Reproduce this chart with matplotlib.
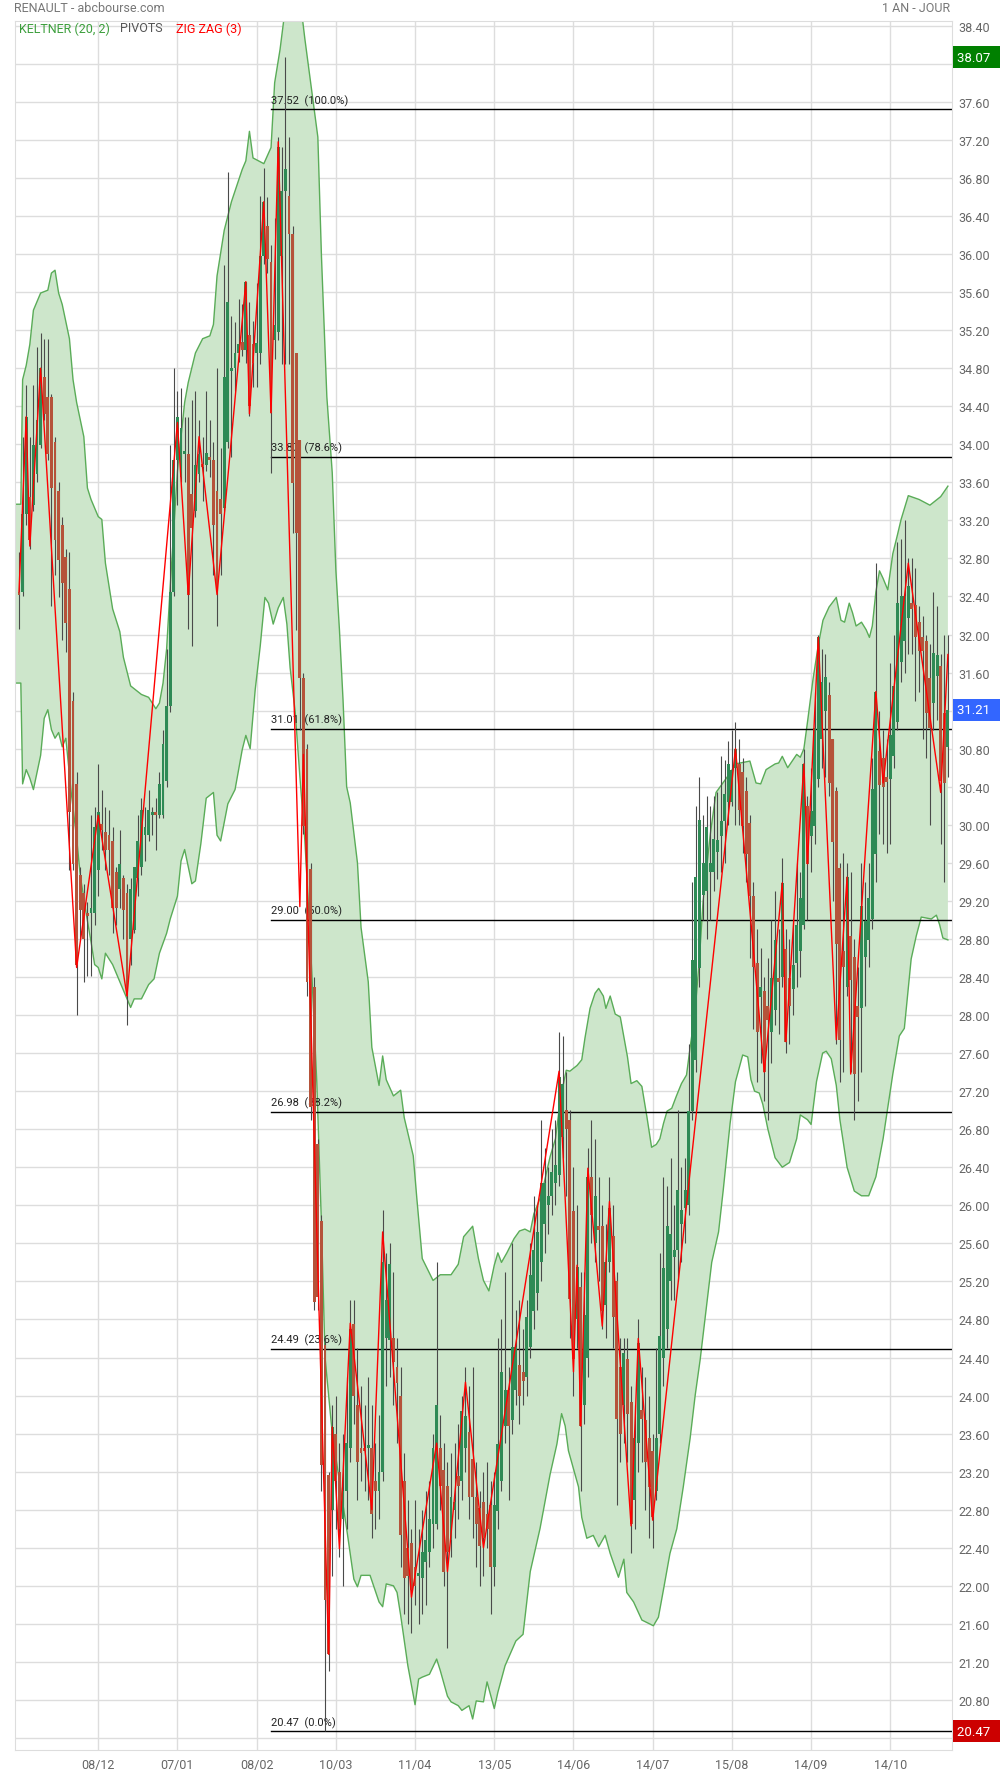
import numpy as np
import matplotlib
matplotlib.use("Agg")
import matplotlib.pyplot as plt
import matplotlib.transforms as mtrans
from matplotlib.ticker import FuncFormatter

# daily candles, index 0 = first session shown
opens = [32.45, 32.45, 33.27, 33.45, 33.36, 33.69, 33.99, 34.71, 34.50, 34.50,
         34.02, 33.51, 33.15, 32.81, 32.48, 31.30, 30.43, 29.47, 29.28, 29.07,
         29.07, 29.07, 29.53, 30.01, 29.92, 29.89, 29.83, 29.50, 29.32, 29.44,
         29.28, 28.80, 28.89, 29.44, 29.56, 29.89, 29.89, 30.10, 30.13, 30.10,
         30.10, 30.46, 31.25, 32.45, 33.84, 33.66, 33.90, 33.90, 33.48, 33.30,
         33.69, 33.78, 33.78, 33.87, 33.84, 33.51, 33.42, 33.33, 34.02, 34.77,
         34.80, 34.96, 35.08, 34.99, 35.15, 35.05, 34.96, 34.96, 35.98, 36.30,
         35.92, 35.10, 35.18, 35.98, 36.66, 36.61, 36.21, 34.96, 34.04, 31.54,
         30.80, 29.54, 28.29, 26.64, 25.84, 24.53, 23.16, 22.80, 23.60, 23.20,
         22.70, 23.00, 23.45, 24.75, 23.90, 23.45, 23.45, 23.45, 23.45, 23.10,
         23.00, 23.20, 24.60, 24.58, 24.60, 24.30, 24.00, 23.10, 22.40, 22.45,
         22.20, 22.10, 22.08, 22.25, 22.36, 22.65, 22.65, 23.45, 23.22, 23.05,
         22.48, 22.80, 23.15, 23.10, 23.45, 23.62, 23.33, 22.93, 22.82, 22.88,
         22.75, 22.85, 22.20, 22.79, 23.10, 23.68, 24.06, 23.74, 24.06, 24.32,
         24.25, 24.19, 24.51, 24.89, 25.08, 25.40, 25.80, 26.00, 26.10, 26.23,
         26.32, 26.72, 27.00, 26.90, 25.94, 24.80, 25.14, 23.90, 24.40, 26.30,
         25.60, 25.78, 25.78, 24.95, 25.40, 25.68, 25.20, 24.30, 23.90, 24.38,
         23.93, 22.90, 23.50, 23.85, 23.74, 23.55, 23.42, 23.00, 23.60, 24.40,
         24.70, 25.20, 25.46, 25.53, 25.80, 25.97, 26.00, 26.99, 27.53, 28.49,
         29.26, 29.30, 29.50, 29.50, 29.71, 29.88, 30.04, 30.24, 30.24, 30.60,
         30.64, 30.55, 30.36, 30.02, 29.25, 28.55, 28.19, 28.25, 28.10, 27.82,
         28.05, 28.39, 28.40, 28.69, 28.39, 28.27, 28.55, 28.67, 28.95, 30.20,
         29.88, 29.99, 30.48, 30.90, 31.20, 31.36, 30.90, 30.36, 29.55, 28.67,
         28.30, 28.83, 28.61, 28.10, 28.07, 28.61, 28.79, 29.01, 29.69, 30.78,
         30.70, 30.50, 30.48, 30.72, 31.08, 31.71, 31.93, 32.17, 32.33, 32.31,
         32.13, 31.97, 31.93, 31.54, 31.28, 31.56, 31.67, 31.18, 30.82]
highs = [32.87, 34.08, 34.62, 34.08, 34.62, 35.02, 35.17, 35.11, 35.11, 34.53,
         34.08, 33.60, 33.24, 32.90, 32.87, 31.40, 30.55, 29.56, 29.38, 29.19,
         30.10, 30.19, 30.64, 30.37, 30.19, 30.16, 29.98, 29.56, 29.95, 29.47,
         29.38, 29.44, 29.56, 30.10, 30.28, 30.19, 30.37, 30.19, 30.28, 30.55,
         31.00, 31.85, 33.99, 34.80, 34.56, 34.59, 34.29, 34.29, 34.47, 34.56,
         34.26, 34.08, 34.56, 34.26, 34.02, 34.80, 33.96, 35.89, 36.86, 35.35,
         35.29, 35.53, 35.47, 35.71, 35.50, 35.30, 35.70, 36.61, 36.90, 36.60,
         36.10, 36.38, 37.23, 37.12, 38.07, 37.23, 36.30, 34.96, 34.05, 31.60,
         30.85, 29.60, 28.40, 26.70, 25.90, 24.60, 23.20, 23.90, 24.00, 23.50,
         23.60, 24.20, 25.00, 25.00, 24.50, 24.10, 23.90, 24.20, 23.90, 23.50,
         23.80, 25.95, 25.50, 25.60, 25.30, 24.60, 24.30, 23.40, 22.90, 22.60,
         22.90, 22.60, 22.80, 23.00, 23.10, 23.60, 25.40, 23.80, 23.50, 23.30,
         23.40, 23.50, 23.70, 24.00, 24.30, 24.10, 24.30, 23.30, 23.00, 23.20,
         23.30, 23.10, 23.20, 24.60, 24.80, 25.30, 24.30, 25.60, 24.90, 25.00,
         24.70, 25.00, 25.60, 26.10, 26.00, 26.90, 26.60, 26.40, 26.80, 26.90,
         27.82, 27.78, 27.40, 27.00, 26.40, 26.00, 25.30, 25.30, 26.60, 26.90,
         26.70, 26.30, 26.00, 25.80, 26.30, 26.00, 25.30, 24.60, 24.60, 24.60,
         24.10, 23.90, 24.80, 24.30, 24.20, 24.00, 23.60, 24.50, 25.50, 26.30,
         26.20, 26.50, 26.00, 27.00, 26.40, 26.50, 27.70, 29.40, 30.20, 30.50,
         30.10, 30.30, 30.20, 30.30, 30.34, 30.72, 30.68, 30.88, 31.00, 31.08,
         30.90, 30.70, 30.50, 30.10, 29.40, 28.90, 28.70, 28.40, 28.60, 29.00,
         29.30, 28.90, 29.65, 28.90, 28.80, 29.00, 29.60, 29.50, 30.80, 30.30,
         30.60, 31.40, 32.00, 31.85, 31.80, 31.50, 30.90, 30.40, 29.60, 29.70,
         29.60, 29.50, 28.80, 28.50, 29.60, 29.40, 29.60, 30.70, 32.75, 31.20,
         31.00, 30.90, 31.70, 32.00, 32.97, 33.00, 33.20, 32.80, 32.80, 32.70,
         32.30, 32.20, 32.00, 31.90, 32.45, 32.30, 31.80, 32.00, 32.00]
lows = [32.06, 32.40, 33.15, 32.90, 33.30, 33.60, 33.96, 34.26, 33.84, 32.30,
        32.63, 32.39, 31.94, 31.82, 29.53, 29.53, 28.00, 28.80, 28.35, 28.41,
        28.41, 28.95, 29.25, 29.74, 29.53, 29.47, 28.86, 28.95, 29.13, 28.80,
        27.90, 28.53, 28.86, 29.25, 29.47, 29.62, 29.83, 29.89, 29.74, 30.07,
        30.07, 30.40, 31.19, 32.40, 33.36, 33.60, 33.60, 32.06, 31.88, 33.24,
        33.60, 33.40, 33.72, 33.66, 32.63, 32.09, 32.63, 33.30, 33.96, 33.87,
        34.56, 34.87, 34.93, 34.85, 34.30, 34.60, 34.60, 34.84, 35.90, 35.80,
        33.70, 34.90, 35.10, 34.84, 34.84, 34.84, 33.07, 32.05, 31.00, 29.90,
        28.20, 26.90, 24.90, 24.90, 23.00, 20.47, 21.10, 22.10, 22.60, 22.30,
        22.00, 22.60, 23.30, 23.70, 22.90, 23.10, 23.00, 22.90, 22.50, 22.60,
        22.70, 23.10, 24.10, 24.20, 23.90, 23.50, 22.20, 21.70, 21.60, 21.50,
        21.80, 21.60, 21.70, 21.80, 22.20, 22.40, 22.60, 22.80, 22.00, 21.35,
        22.30, 22.50, 22.70, 22.90, 23.20, 22.70, 22.50, 22.20, 22.00, 22.10,
        22.40, 21.70, 22.00, 22.60, 23.00, 23.50, 22.90, 23.60, 23.90, 23.70,
        23.90, 24.00, 24.40, 24.70, 24.90, 25.20, 25.50, 25.70, 25.90, 26.00,
        26.20, 26.50, 26.10, 24.60, 24.00, 24.50, 23.00, 23.70, 24.20, 25.60,
        25.40, 25.20, 24.70, 24.60, 25.30, 24.50, 22.85, 23.30, 23.50, 23.30,
        22.34, 22.60, 23.20, 23.30, 22.80, 22.50, 22.40, 22.90, 23.50, 24.10,
        24.50, 25.00, 25.00, 25.20, 25.40, 25.60, 25.90, 26.90, 27.40, 28.30,
        29.00, 28.80, 29.00, 29.30, 29.43, 29.50, 29.60, 30.00, 30.20, 30.00,
        30.00, 29.70, 29.40, 28.60, 27.85, 27.30, 27.50, 27.10, 26.90, 27.50,
        27.90, 27.80, 28.30, 27.60, 27.70, 28.00, 28.30, 28.40, 28.90, 29.00,
        29.50, 29.80, 30.40, 30.60, 30.50, 30.30, 29.20, 27.70, 27.30, 27.40,
        28.20, 27.40, 26.90, 27.10, 27.40, 28.10, 28.50, 28.90, 29.40, 29.90,
        29.80, 29.70, 29.80, 30.60, 31.00, 31.50, 31.60, 31.80, 31.80, 31.30,
        31.40, 30.90, 30.70, 30.00, 31.00, 31.10, 29.80, 29.40, 30.50]
closes = [32.42, 33.27, 34.29, 32.99, 33.99, 34.26, 34.80, 34.32, 33.90, 33.54,
          32.99, 32.78, 32.54, 32.12, 30.13, 29.59, 28.53, 29.10, 28.80, 29.04,
          29.13, 29.98, 30.13, 29.95, 29.74, 29.74, 29.13, 29.13, 29.59, 29.10,
          28.20, 29.32, 29.56, 29.83, 30.16, 29.98, 30.16, 30.13, 30.10, 30.43,
          30.85, 31.25, 32.45, 33.84, 34.29, 34.17, 33.92, 32.42, 33.12, 33.78,
          33.90, 33.76, 33.91, 33.84, 33.15, 32.45, 33.27, 34.71, 35.50, 34.79,
          34.96, 35.05, 34.99, 35.71, 34.40, 34.85, 35.07, 35.98, 36.55, 35.95,
          34.33, 35.25, 37.12, 36.66, 36.89, 36.21, 33.59, 33.07, 31.54, 29.99,
          28.35, 27.03, 24.98, 25.04, 23.27, 21.85, 21.28, 23.67, 23.10, 22.60,
          23.00, 23.50, 24.70, 24.00, 23.30, 23.40, 23.42, 23.48, 22.76, 23.00,
          23.20, 25.40, 25.00, 25.38, 24.35, 24.13, 22.53, 22.08, 22.10, 21.96,
          22.00, 22.12, 22.36, 22.48, 22.70, 23.45, 23.90, 23.05, 22.14, 22.36,
          22.93, 22.88, 23.05, 23.84, 23.79, 22.93, 22.93, 22.65, 22.42, 22.50,
          22.60, 22.20, 22.85, 23.49, 24.25, 24.06, 23.68, 24.51, 24.51, 24.00,
          24.15, 24.83, 25.27, 25.53, 25.72, 26.23, 26.23, 26.10, 26.35, 26.42,
          27.35, 27.27, 26.80, 25.02, 24.38, 25.35, 23.68, 24.85, 26.30, 25.90,
          26.10, 25.74, 24.89, 25.40, 25.97, 24.83, 23.75, 23.60, 24.45, 23.81,
          22.65, 23.55, 24.55, 23.75, 23.30, 23.04, 22.72, 23.55, 24.63, 25.34,
          25.78, 25.70, 25.53, 26.16, 25.95, 26.16, 26.99, 28.58, 29.45, 30.05,
          29.60, 29.98, 29.60, 29.85, 29.84, 30.04, 30.32, 30.64, 30.58, 30.80,
          30.16, 29.99, 29.69, 29.25, 28.51, 27.82, 28.29, 27.40, 27.95, 28.39,
          28.79, 28.35, 29.39, 27.72, 28.10, 28.53, 28.95, 29.23, 30.64, 29.59,
          30.15, 31.02, 31.97, 31.50, 31.55, 30.44, 29.82, 28.75, 27.74, 28.51,
          29.45, 28.37, 27.38, 27.98, 29.15, 28.99, 29.23, 30.38, 31.40, 30.42,
          30.40, 30.45, 30.94, 31.46, 32.33, 32.41, 32.41, 32.51, 32.27, 31.97,
          31.83, 31.83, 31.18, 31.02, 31.81, 31.79, 30.46, 30.44, 31.21]

# keltner (20, 2) band edges, read at these candle positions
up_idx = [-1.2, 0.5, 1, 2, 3, 4, 6, 8, 9, 10, 11, 12, 14, 15, 16, 18, 19, 20, 22, 23,
          24, 25, 26, 28, 29, 30, 31, 33, 34, 36, 37, 38, 39, 40, 41, 42, 43, 44, 45, 46,
          47, 49, 51, 53, 54, 55, 57, 59, 62, 63, 64, 65, 68, 70, 71, 72.5, 74, 76, 78, 79.4,
          81, 83, 84, 85.5, 87, 88, 89, 90, 91, 92, 94, 95, 97, 98, 100, 101, 102, 104, 106, 107,
          109.5, 110.5, 112, 115, 117, 120, 122, 123.5, 126, 127.6, 129, 130.5, 132, 133, 134, 135.5, 137.5, 139, 140.5, 142,
          143, 145, 146, 147.5, 149, 150.5, 152, 153, 155, 156.3, 157.2, 158.6, 160, 161, 162.3, 163, 164.2, 165.6, 167, 169,
          170, 171.6, 173, 174.4, 175.7, 177, 178, 179, 180, 181.3, 182.6, 184, 185.4, 186.4, 187.7, 189, 190, 192, 193.6, 197.8,
          199, 203, 204.7, 206, 207.5, 210, 211, 212, 213.5, 216, 217, 218, 219, 220.5, 222, 223.3, 225, 227, 228.3, 229.3,
          230.6, 231.5, 232.5, 234, 235.3, 236.2, 237, 238, 239, 240, 241.3, 242.7, 244, 245, 247, 250, 253, 256, 258]
up_val = [33.37, 33.37, 34.68, 34.83, 35.05, 35.41, 35.59, 35.62, 35.80, 35.83, 35.59, 35.47, 35.11, 34.68, 34.44, 34.08, 33.54, 33.42, 33.24, 33.21,
          32.75, 32.51, 32.27, 32.03, 31.76, 31.61, 31.46, 31.40, 31.37, 31.34, 31.28, 31.22, 31.28, 31.49, 31.85, 32.51, 33.12, 33.72, 34.08, 34.44,
          34.65, 34.96, 35.11, 35.14, 35.26, 35.77, 36.25, 36.55, 36.89, 36.98, 37.29, 37.01, 36.95, 37.12, 37.80, 38.15, 38.60, 38.90, 38.70, 38.26,
          37.80, 37.23, 35.98, 34.50, 33.70, 32.68, 32.05, 31.31, 30.40, 30.23, 29.60, 28.92, 28.35, 27.66, 27.26, 27.57, 27.32, 27.15, 27.21, 26.92,
          26.52, 26.07, 25.44, 25.21, 25.27, 25.27, 25.38, 25.67, 25.78, 25.44, 25.21, 25.10, 25.37, 25.50, 25.40, 25.50, 25.65, 25.73, 25.75, 25.72,
          25.91, 26.10, 26.26, 26.51, 26.70, 27.15, 27.42, 27.41, 27.47, 27.53, 27.76, 28.07, 28.23, 28.28, 28.20, 28.07, 28.20, 28.01, 27.98, 27.56,
          27.28, 27.31, 27.25, 26.93, 26.61, 26.64, 26.70, 26.86, 26.99, 27.02, 27.15, 27.28, 27.37, 27.66, 28.01, 28.60, 29.20, 29.90, 30.34, 30.56,
          30.64, 30.67, 30.44, 30.43, 30.58, 30.64, 30.65, 30.72, 30.60, 30.74, 30.71, 30.80, 31.08, 31.52, 31.89, 32.15, 32.29, 32.39, 32.15, 32.13,
          32.33, 32.23, 32.09, 32.13, 32.05, 31.97, 32.09, 32.45, 32.67, 32.59, 32.47, 32.85, 33.05, 33.21, 33.46, 33.42, 33.36, 33.45, 33.56]
lo_idx = [-1.2, 0.5, 1, 2, 3, 4, 6, 7, 8, 9, 10, 11, 12, 13, 14.5, 16, 17, 18.5, 20, 21,
          22, 23, 24, 26, 28, 30, 31, 32, 34, 36, 37.5, 39, 41, 42, 44, 45, 46, 48, 49, 50.5,
          52, 54, 55, 56, 58, 60, 62, 63, 64.2, 65.6, 67, 68.3, 69.3, 70.6, 72, 73.4, 74.4, 75.3, 76.7, 78,
          79.4, 80.4, 81.3, 82.7, 84, 85, 87, 89, 91, 93, 94, 95, 97.5, 100, 101, 102, 104, 105, 106, 108,
          110, 111, 112, 114, 116, 117, 119, 120, 122, 123, 125, 126, 127, 129, 130, 132, 133, 135, 138, 140,
          142, 144.7, 147.5, 149.4, 150.7, 151.7, 152.6, 154, 155.4, 156.3, 157.7, 159.5, 161, 162.8, 164.2, 166.5, 168, 168.8, 170.7, 173,
          176.2, 177.6, 179, 180.8, 182.7, 184.5, 186.4, 187.8, 189.2, 191, 192.4, 194.3, 195.6, 197.5, 199, 201, 202.4, 203.3, 204.3, 205.6,
          206.6, 208, 210, 212, 214, 216, 217, 219, 220, 221.5, 223.2, 224.2, 225.6, 227, 228, 230, 232, 234, 236, 238,
          240, 242.7, 244.5, 245.9, 247.8, 249.2, 250.6, 253.4, 254.8, 255.7, 256.6, 258]
lo_val = [31.49, 31.49, 30.43, 30.58, 30.49, 30.37, 30.73, 31.12, 31.21, 31.00, 30.91, 30.97, 30.82, 30.91, 30.34, 29.86, 29.47, 29.10, 28.77, 28.53,
          28.50, 28.38, 28.65, 28.53, 28.35, 28.17, 28.08, 28.17, 28.17, 28.32, 28.38, 28.65, 28.86, 29.01, 29.25, 29.62, 29.74, 29.38, 29.41, 29.80,
          30.28, 30.34, 29.89, 29.83, 30.22, 30.37, 30.79, 30.94, 30.80, 31.42, 31.88, 32.39, 32.33, 32.11, 32.28, 32.39, 32.11, 31.65, 31.19, 30.51,
          29.83, 29.14, 28.46, 27.30, 25.80, 24.40, 23.60, 23.10, 22.60, 22.07, 21.99, 22.11, 22.11, 21.83, 21.78, 22.02, 22.00, 21.93, 21.69, 21.16,
          20.75, 21.02, 21.04, 21.07, 21.23, 21.11, 20.84, 20.78, 20.74, 20.69, 20.74, 20.60, 20.79, 20.78, 20.99, 20.71, 20.88, 21.16, 21.42, 21.49,
          22.15, 22.60, 23.17, 23.49, 23.81, 23.68, 23.42, 23.23, 23.04, 22.72, 22.50, 22.53, 22.41, 22.53, 22.34, 22.09, 22.28, 21.93, 21.83, 21.64,
          21.58, 21.67, 21.96, 22.34, 22.60, 23.04, 23.55, 24.00, 24.38, 24.95, 25.40, 25.72, 26.16, 26.86, 27.30, 27.58, 27.56, 27.32, 27.20, 27.18,
          27.06, 26.80, 26.50, 26.40, 26.45, 26.70, 26.95, 26.90, 26.85, 27.30, 27.60, 27.62, 27.54, 27.26, 26.90, 26.40, 26.15, 26.10, 26.10, 26.30,
          26.70, 27.38, 27.78, 27.86, 28.59, 28.83, 29.03, 29.01, 29.05, 28.95, 28.81, 28.79]

# zig zag (3) pivots
zz_idx = [0, 2, 3, 6, 16, 22, 30, 44, 47, 50, 55, 63, 64, 68, 70, 72, 78, 79, 86, 87,
          89, 92, 98, 101, 109, 116, 119, 124, 129, 150, 154, 155, 156, 158, 162, 164, 170, 172, 176, 199,
          207, 212, 213, 218, 219, 222, 227, 230, 231, 238, 240, 247, 256, 258]
zz_val = [32.45, 34.29, 32.93, 34.80, 28.50, 30.10, 28.20, 34.23, 32.42, 34.08, 32.42, 35.71, 34.32, 36.55, 34.33, 37.18, 29.14, 30.74, 21.28, 23.67,
          22.39, 24.76, 22.80, 25.72, 21.88, 23.50, 22.15, 24.14, 22.40, 27.41, 24.25, 25.37, 23.68, 26.39, 24.73, 26.04, 22.63, 24.60, 22.69, 30.80,
          27.40, 29.39, 27.72, 30.64, 29.59, 31.97, 27.74, 29.45, 27.38, 31.40, 30.44, 32.75, 30.34, 31.79]

# fibonacci retracement levels
fib_levels = [37.52, 33.87, 31.01, 29.00, 26.98, 24.49, 20.47]
fib_labels = ["37.52  (100.0%)", "33.87  (78.6%)", "31.01  (61.8%)", "29.00  (50.0%)",
              "26.98  (38.2%)", "24.49  (23.6%)", "20.47  (0.0%)"]
fib_start = 70

tick_pos = [22, 44, 66, 88, 110, 132, 154, 176, 198, 220, 242]
tick_lbl = ["08/12", "07/01", "08/02", "10/03", "11/04", "13/05", "14/06", "14/07", "15/08", "14/09", "14/10"]

last_close = 31.21
top_high = 38.07
low_low = 20.47

plt.rcParams['font.family'] = ['Roboto', 'DejaVu Sans']

fig = plt.figure(figsize=(10, 17.74), dpi=100)
ax = fig.add_axes([0.0147, 0.01297, 0.9368, 0.9748])

n = len(closes)
idx = np.arange(n)
o = np.array(opens); c = np.array(closes)
h = np.array(highs); l = np.array(lows)

# band
px = up_idx + lo_idx[::-1]
py = up_val + lo_val[::-1]
ax.fill(px, py, color='#cde6cb', lw=0, zorder=1)
ax.plot(up_idx, up_val, color='#5aac58', lw=1, zorder=1.5)
ax.plot(lo_idx, lo_val, color='#5aac58', lw=1, zorder=1.5)

# fib lines
for lev, lab in zip(fib_levels, fib_labels):
    ax.plot([fib_start, 262], [lev, lev], color='black', lw=1, zorder=2)
    ax.text(fib_start, lev + 0.04, lab, fontsize=8, color='#222222',
            va='bottom', ha='left', zorder=2)

# candles
up = c >= o
ax.vlines(idx, l, h, color='#4a4a4a', lw=0.8, zorder=3)
body_h = np.maximum(np.abs(c - o), 0.03)
ax.bar(idx, body_h, bottom=np.minimum(o, c), width=0.8,
       color=np.where(up, '#2e8a55', '#b5533a'), lw=0, zorder=3.2)

# zig zag
ax.plot(zz_idx, zz_val, color='#ff0000', lw=1.0, zorder=4)

ax.set_xlim(-1.2, 259.0)
ax.set_ylim(20.274, 38.453)

boxes = [(top_high, '#008000'), (last_close, '#3366ff'), (low_low, '#cc0000')]


def price_fmt(v, pos):
    # labels hidden under the price boxes
    for b, _ in boxes:
        if abs(v - b) < 0.15:
            return ''
    return f"{v:.2f}"


ax.set_yticks(np.arange(20.4, 38.41, 0.4))
ax.yaxis.set_major_formatter(FuncFormatter(price_fmt))
ax.yaxis.tick_right()
ax.set_xticks(tick_pos)
ax.set_xticklabels(tick_lbl)
ax.tick_params(axis='both', length=0, labelsize=9, labelcolor='#666666')
ax.tick_params(axis='y', pad=5)
ax.tick_params(axis='x', pad=6)
ax.grid(True, color='#dddddd', lw=1)
ax.set_axisbelow(True)
for s in ax.spines.values():
    s.set_color('#dddddd')

# price boxes on the right axis
tr = mtrans.blended_transform_factory(ax.transAxes, ax.transData)
for val, col in boxes:
    ax.text(1.006, val, f"{val:.2f}  ", transform=tr, color='white', fontsize=9.5,
            va='center', ha='left', clip_on=False, zorder=10,
            bbox=dict(boxstyle='square,pad=0.35', fc=col, ec='none'))

fig.text(0.014, 1 - 9 / 1774, "RENAULT - abcbourse.com", color='#777777', fontsize=9, va='center')
fig.text(0.950, 1 - 9 / 1774, "1 AN - JOUR", color='#777777', fontsize=9, va='center', ha='right')

legend_y = 1 - 29 / 1774
fig.text(0.019, legend_y, "KELTNER (20, 2)", color='#3c9f3c', fontsize=9, va='center')
fig.text(0.120, legend_y, "PIVOTS", color='#555555', fontsize=9, va='center')
fig.text(0.176, legend_y, "ZIG ZAG (3)", color='#ff0000', fontsize=9, va='center')

fig.savefig('out.png', dpi=100)
